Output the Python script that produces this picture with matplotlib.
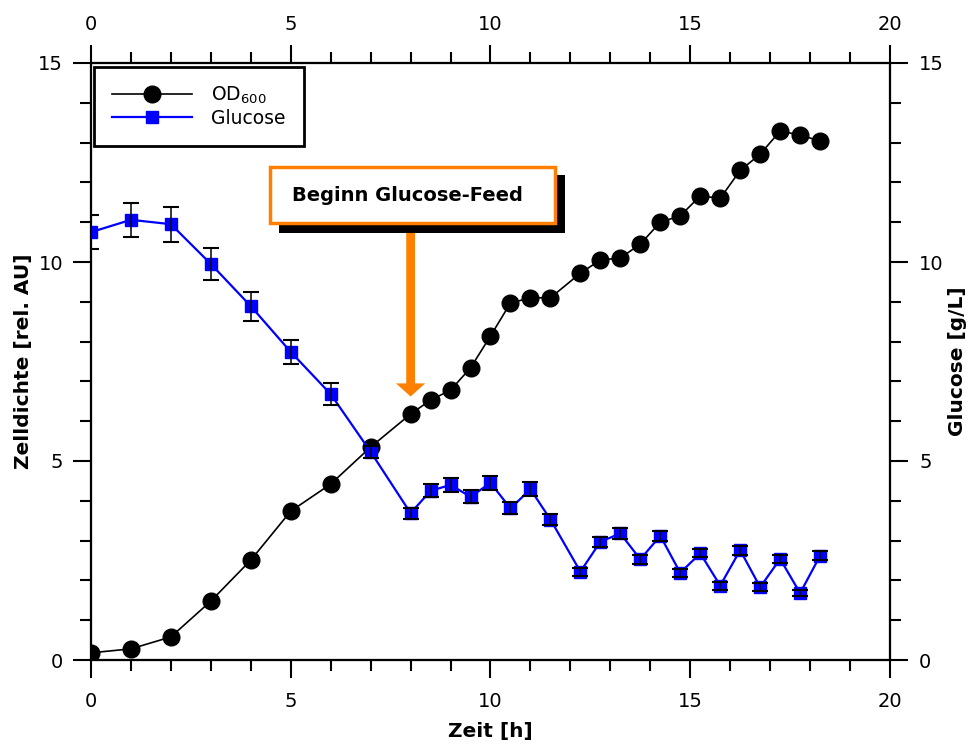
import numpy as np
import matplotlib
matplotlib.use('Agg')
import matplotlib.pyplot as plt
from matplotlib.patches import Rectangle
from matplotlib.ticker import MultipleLocator

# ---------------
# Data

# OD600 (cell density) vs time
t_od = [0, 1, 2, 3, 4, 5, 6, 7, 8, 8.5, 9, 9.5, 10, 10.5, 11, 11.5,
        12.25, 12.75, 13.25, 13.75, 14.25, 14.75, 15.25, 15.75, 16.25,
        16.75, 17.25, 17.75, 18.25]
od600 = [0.18, 0.28, 0.58, 1.48, 2.51, 3.74, 4.42, 5.35, 6.18, 6.53, 6.78,
         7.34, 8.14, 8.97, 9.10, 9.10, 9.72, 10.05, 10.10, 10.45, 11.00,
         11.16, 11.66, 11.60, 12.30, 12.71, 13.29, 13.19, 13.04]

# Glucose concentration vs time, with error
t_glc = t_od
glucose = [10.75, 11.06, 10.95, 9.95, 8.89, 7.74, 6.68, 5.23, 3.69, 4.25,
           4.40, 4.10, 4.45, 3.81, 4.29, 3.53, 2.22, 2.97, 3.18, 2.53, 3.12,
           2.19, 2.68, 1.87, 2.76, 1.83, 2.54, 1.68, 2.62]
glucose_err = [0.43, 0.43, 0.44, 0.39, 0.36, 0.31, 0.27, 0.15, 0.14, 0.16,
               0.17, 0.16, 0.17, 0.15, 0.17, 0.13, 0.10, 0.13, 0.13, 0.11,
               0.12, 0.10, 0.10, 0.10, 0.11, 0.10, 0.10, 0.08, 0.11]

feed_start = 8  # h
orange = '#FF8000'

# -------------------------
# Plot

fig = plt.figure(figsize=(9.73, 7.46), dpi=100)
ax = fig.add_axes([91/973, 1 - 660/746, 799/973, 597/746])
ax2 = ax.twinx()
ax3 = ax.twiny()

for a in (ax, ax2, ax3):
    a.set_xlim(0, 20)
    a.set_ylim(0, 15)
    for s in a.spines.values():
        s.set_linewidth(1.5)
    a.xaxis.set_major_locator(MultipleLocator(5))
    a.xaxis.set_minor_locator(MultipleLocator(1))
    a.yaxis.set_major_locator(MultipleLocator(5))
    a.yaxis.set_minor_locator(MultipleLocator(1))
    a.tick_params(which='major', length=13, width=1.5, labelsize=14)
    a.tick_params(which='minor', length=8, width=1.5)

ax.tick_params(axis='x', which='both', top=False, pad=10)
ax.tick_params(axis='y', which='both', right=False, pad=7)
ax2.tick_params(axis='y', which='both', left=False, pad=8)
ax2.tick_params(axis='x', which='both', bottom=False, top=False, labelbottom=False)
ax3.tick_params(axis='x', which='both', bottom=False, pad=8)
ax3.tick_params(axis='y', which='both', left=False, right=False, labelleft=False)

# OD600 on left axis
h_od, = ax.plot(t_od, od600, color='black', lw=1.2, marker='o', ms=12,
                label=r'OD$_\mathregular{600}$')

# Glucose on right axis
ax2.set_zorder(ax.get_zorder() + 1)
ax2.patch.set_visible(False)
h_glc, = ax2.plot(t_glc, glucose, color='blue', lw=1.6, marker='s', ms=9,
                  mec='blue', label='Glucose', zorder=3)
ax2.errorbar(t_glc, glucose, yerr=glucose_err, fmt='none', ecolor='black',
             elinewidth=1.1, capsize=5.5, capthick=1.5, zorder=4)

# Feed start annotation
ax2.add_patch(Rectangle((4.71, 10.73), 7.15, 1.46, facecolor='black',
                        edgecolor='none', zorder=5))
ax2.add_patch(Rectangle((4.48, 10.99), 7.13, 1.40, facecolor='white',
                        edgecolor=orange, lw=2.5, zorder=6))
ax2.text(7.93, 11.66, 'Beginn Glucose-Feed', ha='center', va='center',
         fontsize=14, fontweight='bold', zorder=7)
ax2.arrow(feed_start, 10.73, 0, 6.62 - 10.73, width=0.22, head_width=0.73,
          head_length=0.33, length_includes_head=True, color=orange,
          lw=0, zorder=5)

ax.set_xlabel('Zeit [h]', fontsize=14.5, fontweight='bold', labelpad=8)
ax.set_ylabel('Zelldichte [rel. AU]', fontsize=14.5, fontweight='bold', labelpad=4)
ax2.set_ylabel('Glucose [g/L]', fontsize=14.5, fontweight='bold', rotation=90,
               labelpad=3)

leg = ax2.legend(handles=[h_od, h_glc], loc='upper left',
                 bbox_to_anchor=(3/799, 1 - 4/597), borderaxespad=0,
                 fontsize=13.5, handlelength=4.3, handletextpad=1.0,
                 fancybox=False, framealpha=1, borderpad=0.95,
                 labelspacing=0.15)
leg.get_frame().set_edgecolor('black')
leg.get_frame().set_linewidth(2)
leg.set_zorder(10)

fig.savefig('out.png', dpi=100)
